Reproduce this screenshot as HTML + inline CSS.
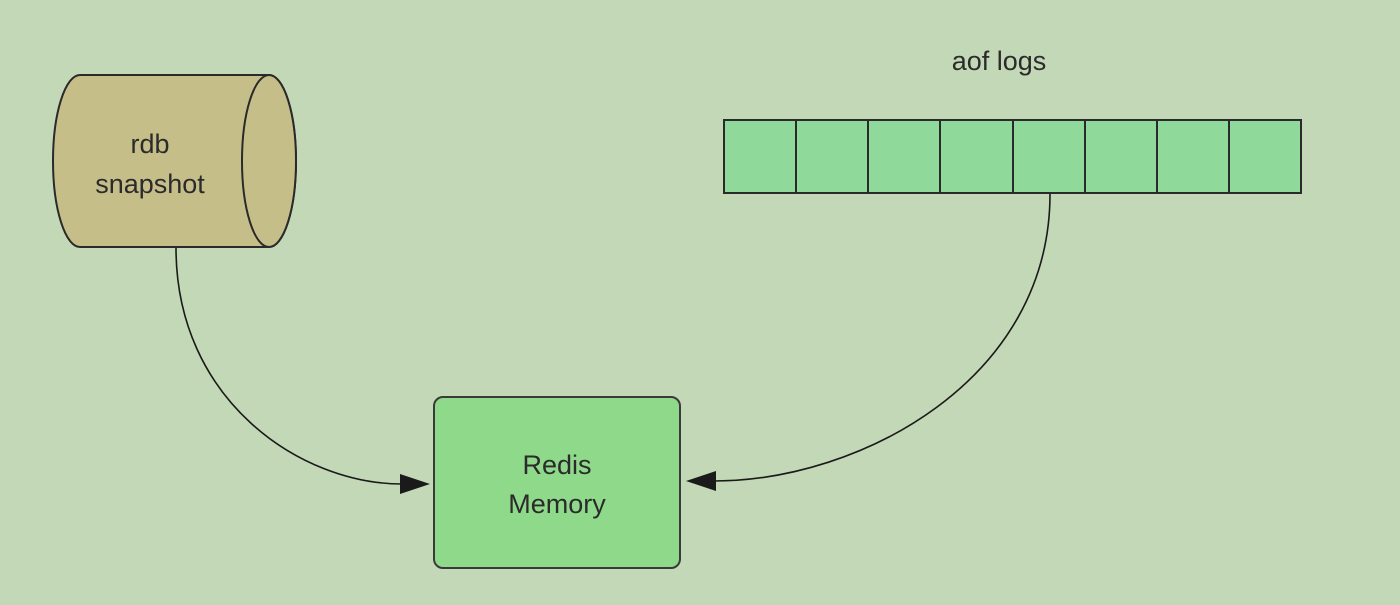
<!DOCTYPE html>
<html><head><style>
body{margin:0;width:1400px;height:600px;background:#c3d8b6;overflow:hidden}
text{font-family:"Liberation Sans",sans-serif;fill:#2b2b2b}
</style></head><body>
<svg width="1400" height="600" xmlns="http://www.w3.org/2000/svg">
<rect width="1400" height="600" fill="#c3d8b6"/>
<path d="M80,75 L269,75 A27,86 0 0 1 269,247 L80,247 A27,86 0 0 1 80,75 Z" fill="#c6be89" stroke="#2a2a2a" stroke-width="2"/>
<ellipse cx="269" cy="161" rx="27" ry="86" fill="#c6be89" stroke="#2a2a2a" stroke-width="2"/>
<text x="150" y="153" font-size="27" text-anchor="middle">rdb</text>
<text x="150" y="193" font-size="27" text-anchor="middle">snapshot</text>
<rect x="434" y="397" width="246" height="171" rx="9" fill="#8fd98b" stroke="#3a3a3a" stroke-width="2"/>
<text x="557" y="474" font-size="27" text-anchor="middle">Redis</text>
<text x="557" y="513" font-size="27" text-anchor="middle">Memory</text>
<text x="999" y="70" font-size="27" text-anchor="middle">aof logs</text>
<g fill="#8fd99b" stroke="#2a2a2a" stroke-width="2">
<rect x="724" y="120" width="72" height="73"/><rect x="796" y="120" width="72" height="73"/>
<rect x="868" y="120" width="72" height="73"/><rect x="940" y="120" width="73" height="73"/>
<rect x="1013" y="120" width="72" height="73"/><rect x="1085" y="120" width="72" height="73"/>
<rect x="1157" y="120" width="72" height="73"/><rect x="1229" y="120" width="72" height="73"/>
</g>
<path d="M176,248 C176,400 300,484 402,484" fill="none" stroke="#1a1a1a" stroke-width="1.6"/>
<path d="M400,474 L430,484 L400,494 Z" fill="#1a1a1a"/>
<path d="M1050,194 C1050,380 860,481 714,481" fill="none" stroke="#1a1a1a" stroke-width="1.6"/>
<path d="M716,471 L686,481 L716,491 Z" fill="#1a1a1a"/>
</svg>
</body></html>
